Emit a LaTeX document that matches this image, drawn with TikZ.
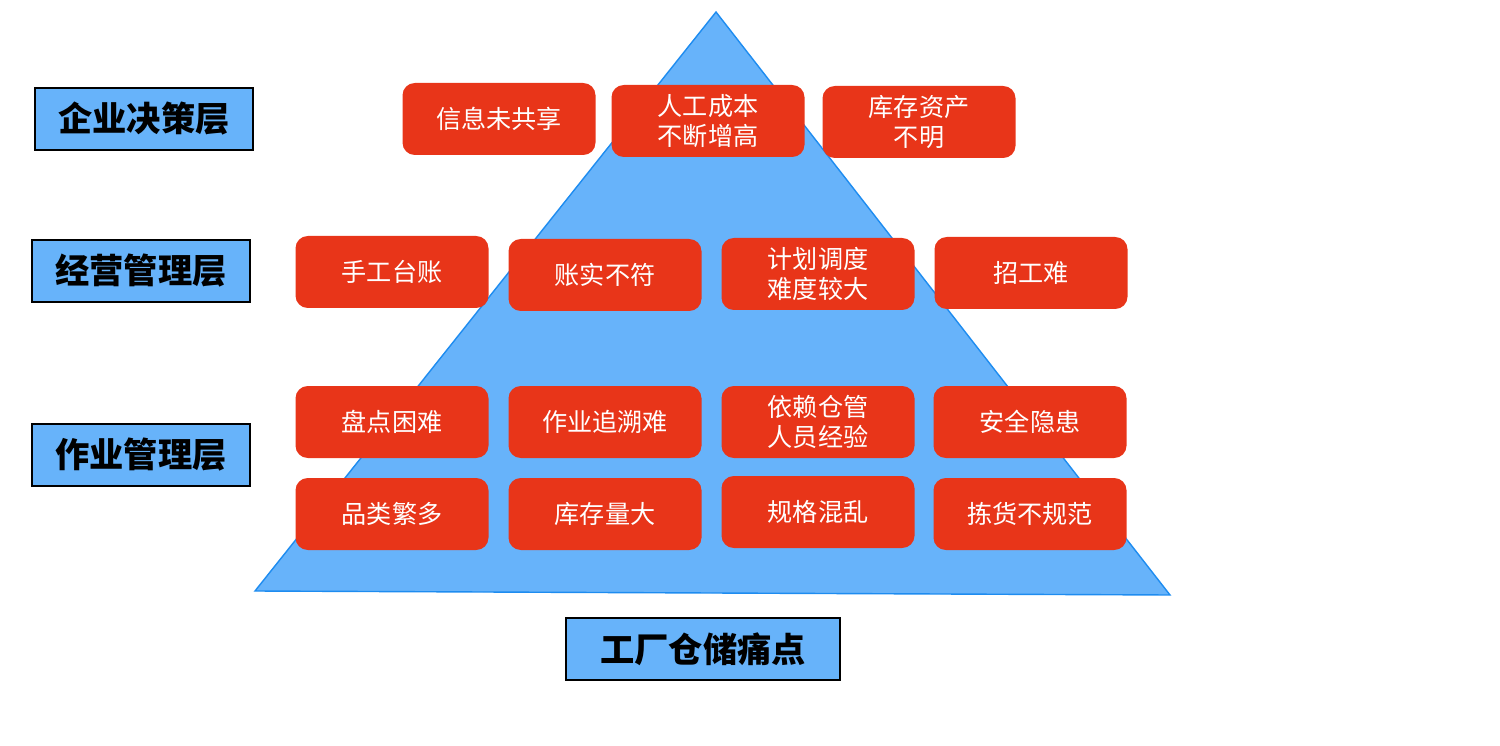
\documentclass[tikz,border=0pt]{standalone}
\usepackage{fontspec}
\setmainfont{Noto Sans CJK SC}
\definecolor{PyramidClr}{RGB}{103,179,250}
\definecolor{PyramidLine}{RGB}{30,140,240}
\definecolor{PainClr}{RGB}{232,53,25}
\tikzset{
  painbox/.style={fill=PainClr,rounded corners=7pt,minimum width=193*0.02cm,
    minimum height=72*0.02cm,text=white,font=\fontsize{14.3}{17.2}\selectfont,
    align=center,inner sep=0pt},
  layerbox/.style={fill=PyramidClr,draw=black,line width=0.8pt,
    minimum height=62*0.02cm,font=\fontsize{19.5}{22}\selectfont\bfseries,inner sep=0pt}
}

\begin{document}
\begin{tikzpicture}[x=0.02cm,y=-0.02cm]
\useasboundingbox (0,0) rectangle (1500,746);

\coordinate (T) at (716,12);
\coordinate (L) at (255,591);
\coordinate (R) at (1170,595);
\fill[PyramidClr] (T) -- (L) -- (R) -- cycle;
\draw[PyramidLine,line width=0.8pt] (T) -- (L) -- (R) -- cycle;

\node[layerbox,minimum width=218*0.02cm] (decide) at (144,119) {企业决策层};
\node[layerbox,minimum width=218*0.02cm] (manage) at (141,271) {经营管理层};
\node[layerbox,minimum width=218*0.02cm] (work) at (141,455) {作业管理层};
\node[layerbox,minimum width=274*0.02cm] (title) at (703,649) {工厂仓储痛点};

\node[painbox] (p11) at (499,119) {信息未共享};
\node[painbox] (p12) at (708,121) {人工成本\\不断增高};
\node[painbox] (p13) at (919,122) {库存资产\\不明};

\node[painbox] (p21) at (392,272) {手工台账};
\node[painbox] (p22) at (605,275) {账实不符};
\node[painbox] (p23) at (818,274) {计划调度\\难度较大};
\node[painbox] (p24) at (1031,273) {招工难};

\node[painbox] (p31) at (392,422) {盘点困难};
\node[painbox] (p32) at (605,422) {作业追溯难};
\node[painbox] (p33) at (818,422) {依赖仓管\\人员经验};
\node[painbox] (p34) at (1030,422) {安全隐患};

\node[painbox] (p41) at (392,514) {品类繁多};
\node[painbox] (p42) at (605,514) {库存量大};
\node[painbox] (p43) at (818,512) {规格混乱};
\node[painbox] (p44) at (1030,514) {拣货不规范};

\end{tikzpicture}
\end{document}
